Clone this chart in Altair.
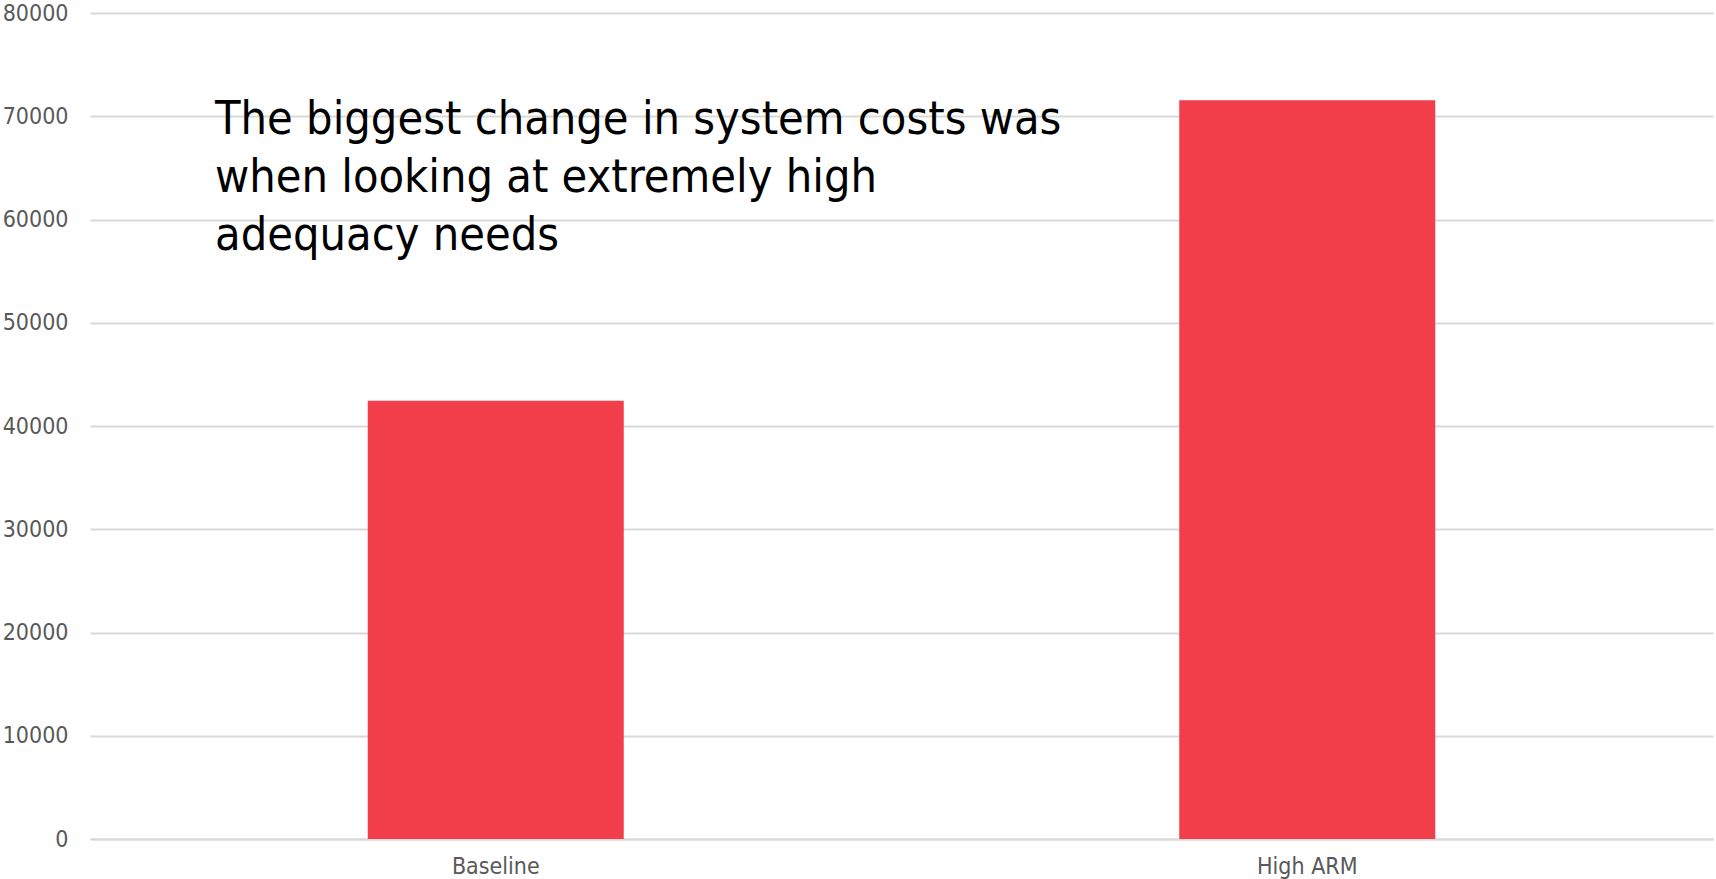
import altair as alt
import pandas as pd

categories = ["Baseline", "High ARM"]
values = [42450, 71550]
y_ticks = [0, 10000, 20000, 30000, 40000, 50000, 60000, 70000, 80000]
note_lines = [
    "The biggest change in system costs was",
    "when looking at extremely high",
    "adequacy needs",
]

df = pd.DataFrame({"category": categories, "value": values})
FONT = "DejaVu Sans Condensed"

bars = alt.Chart(df).mark_bar(color="#F23E4B", size=256).encode(
    x=alt.X("category:N", sort=categories,
            scale=alt.Scale(paddingInner=0, paddingOuter=0),
            axis=alt.Axis(title=None, labelAngle=0, labelFontSize=23, labelColor="#595959",
                          labelFont=FONT, ticks=False, domainColor="#d9d9d9", domainWidth=2,
                          labelPadding=16)),
    y=alt.Y("value:Q", scale=alt.Scale(domain=[0, 80000]),
            axis=alt.Axis(title=None, values=y_ticks, format="d", labelFontSize=23,
                          labelColor="#595959", labelFont=FONT, ticks=False, domain=False,
                          gridColor="#d9d9d9", gridWidth=2, labelPadding=22)),
)

note = alt.Chart(pd.DataFrame({"t": [note_lines]})).mark_text(
    align="left", baseline="top", font=FONT, fontSize=46.5, lineHeight=58, color="#000000"
).encode(text="t", x=alt.value(125), y=alt.value(84))

chart = alt.layer(bars, note).properties(
    width=1623, height=826,
    padding={"left": 90, "top": 13, "right": 3, "bottom": 40},
    autosize=alt.AutoSizeParams(type="none"),
).configure_view(stroke=None)

chart.save("out.html", embed_options={"renderer": "svg", "actions": False})
